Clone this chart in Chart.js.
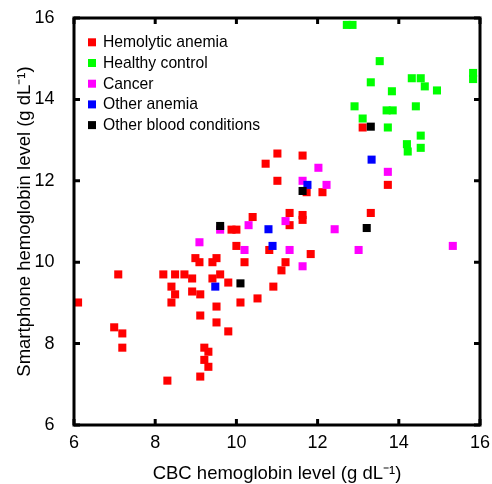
<!DOCTYPE html>
<html>
<head>
<meta charset="utf-8">
<script src="https://cdn.jsdelivr.net/npm/chart.js@4.4.1/dist/chart.umd.min.js"></script>
<style>
html,body{margin:0;padding:0;background:#fff;}
</style>
</head>
<body>
<canvas id="chart" width="492" height="484"></canvas>
<script>
// groups in legend order
var groupNames = ['Hemolytic anemia', 'Healthy control', 'Cancer', 'Other anemia', 'Other blood conditions'];
var groupColors = ['#ff0000', '#00ff00', '#ff00ff', '#0000ff', '#000000'];

// CBC (x) / smartphone (y) hemoglobin, g/dL
var hemolyticX = [13.11, 10.72, 11.01, 11.63, 13.73, 11.01, 11.73, 12.12, 11.31, 11.63, 11.63, 11.31, 13.31, 10.4,
    9.88, 10.0, 10.0, 10.81, 11.83, 8.99, 9.09, 9.41, 9.51, 10.2, 11.21, 11.11, 7.09, 8.2, 8.49, 8.72, 8.91, 9.41,
    9.6, 9.8, 8.4, 10.91, 8.49, 8.91, 9.11, 8.4, 6.1, 9.51, 10.1, 10.52, 9.11, 9.51, 9.8, 6.99, 7.19, 7.19, 9.21,
    9.31, 9.21, 9.31, 9.11, 8.3];
var hemolyticY = [13.31, 12.42, 12.67, 12.62, 11.9, 12.0, 11.72, 11.72, 11.21, 11.16, 11.04, 10.91, 11.21, 11.11,
    10.8, 10.8, 10.4, 10.3, 10.2, 10.1, 10.0, 10.0, 10.1, 10.0, 10.0, 9.8, 9.7, 9.7, 9.7, 9.7, 9.6, 9.6,
    9.7, 9.5, 9.4, 9.4, 9.21, 9.28, 9.21, 9.01, 9.01, 8.91, 9.01, 9.11, 8.69, 8.52, 8.3, 8.4, 8.25, 7.9, 7.9,
    7.8, 7.6, 7.43, 7.19, 7.09];

var healthyX = [12.72, 12.86, 13.53, 13.31, 14.32, 14.54, 14.64, 14.94, 13.83, 15.83, 15.83, 12.91, 13.7, 13.85,
    14.42, 13.11, 13.73, 14.54, 14.2, 14.22, 14.54];
var healthyY = [15.83, 15.83, 14.94, 14.42, 14.52, 14.52, 14.32, 14.22, 14.2, 14.65, 14.5, 13.83, 13.73, 13.73,
    13.83, 13.53, 13.31, 13.11, 12.9, 12.72, 12.81];

var cancerX = [9.6, 10.3, 9.09, 10.2, 12.02, 13.73, 11.63, 12.22, 11.21, 12.42, 11.31, 13.01, 15.33, 11.63];
var cancerY = [10.8, 10.91, 10.49, 10.3, 12.32, 12.22, 12.0, 11.9, 11.01, 10.81, 10.3, 10.3, 10.4, 9.9];

var otherAnemiaX = [10.79, 10.89, 9.48, 13.33, 11.75];
var otherAnemiaY = [10.81, 10.4, 9.4, 12.52, 11.9];

var otherBloodX = [13.31, 9.6, 10.1, 11.63, 13.21];
var otherBloodY = [13.33, 10.89, 9.48, 11.75, 10.84];

var axisMin = 6, axisMax = 16, axisStep = 2;

function toPoints(xs, ys){
    var pts = [];
    for(var i = 0; i < xs.length; i++){
        pts.push({x: xs[i], y: ys[i]});
    }
    return pts;
}

var allX = [hemolyticX, healthyX, cancerX, otherAnemiaX, otherBloodX];
var allY = [hemolyticY, healthyY, cancerY, otherAnemiaY, otherBloodY];

var FONT = '"Liberation Sans", Arial, Helvetica, sans-serif';

var datasets = [];
for(var g = 0; g < groupNames.length; g++){
    datasets.push({
        label: groupNames[g],
        data: toPoints(allX[g], allY[g]),
        backgroundColor: groupColors[g],
        pointStyle: 'rect',
        pointRadius: 5.7,
        pointHoverRadius: 5.7,
        pointBorderWidth: 0,
        order: groupNames.length - 1 - g
    });
}

// frame with inward ticks on all four sides, plus the legend inside the plot
var framePlugin = {
    id: 'frame',
    afterDraw: function(chart){
        var ctx = chart.ctx, a = chart.chartArea;
        var xs = chart.scales.x, ys = chart.scales.y;
        ctx.save();
        ctx.strokeStyle = '#000';
        ctx.lineWidth = 3;
        ctx.lineJoin = 'miter';
        ctx.strokeRect(a.left, a.top, a.right - a.left, a.bottom - a.top);
        ctx.beginPath();
        xs.ticks.forEach(function(t){
            var px = xs.getPixelForValue(t.value);
            ctx.moveTo(px, a.bottom); ctx.lineTo(px, a.bottom - 6);
            ctx.moveTo(px, a.top); ctx.lineTo(px, a.top + 6);
        });
        ys.ticks.forEach(function(t){
            var py = ys.getPixelForValue(t.value);
            ctx.moveTo(a.left, py); ctx.lineTo(a.left + 6, py);
            ctx.moveTo(a.right, py); ctx.lineTo(a.right - 6, py);
        });
        ctx.stroke();

        ctx.font = '15.7px ' + FONT;
        ctx.textBaseline = 'middle';
        ctx.textAlign = 'left';
        for(var i = 0; i < groupNames.length; i++){
            var cy = a.top + 24.3 + i * 20.7;
            ctx.fillStyle = groupColors[i];
            ctx.fillRect(88, cy - 4, 8, 8);
            ctx.fillStyle = '#000';
            ctx.fillText(groupNames[i], 103, cy + 0.5);
        }
        ctx.restore();
    }
};

var ctx = document.getElementById('chart').getContext('2d');
var myChart = new Chart(ctx, {
    type: 'scatter',
    data: {datasets: datasets},
    options: {
        responsive: false,
        animation: false,
        events: [],
        layout: {padding: {top: 18, right: 12, left: 0, bottom: 0}},
        plugins: {legend: {display: false}, tooltip: {enabled: false}},
        scales: {
            x: {
                type: 'linear', min: axisMin, max: axisMax,
                grid: {display: false, drawTicks: false},
                border: {display: false},
                ticks: {stepSize: axisStep, color: '#000', padding: 7, font: {family: FONT, size: 18}},
                title: {display: true, text: 'CBC hemoglobin level (g dL\u207B\u00B9)', color: '#000',
                    padding: {top: 0, bottom: 1}, font: {family: FONT, size: 18.5, lineHeight: 1}},
                afterFit: function(scale){
                    scale.height = 59;
                    scale.paddingLeft = 0; scale.paddingRight = 0;
                }
            },
            y: {
                type: 'linear', min: axisMin, max: axisMax,
                grid: {display: false, drawTicks: false},
                border: {display: false},
                ticks: {stepSize: axisStep, color: '#000', padding: 19.5, font: {family: FONT, size: 18}},
                title: {display: true, text: 'Smartphone hemoglobin level (g dL\u207B\u00B9)', color: '#000',
                    padding: {top: 15.5, bottom: 0}, font: {family: FONT, size: 18.5, lineHeight: 1}},
                afterFit: function(scale){
                    scale.width = 74;
                    scale.paddingTop = 0; scale.paddingBottom = 0;
                }
            }
        }
    },
    plugins: [framePlugin]
});
</script>
</body>
</html>
